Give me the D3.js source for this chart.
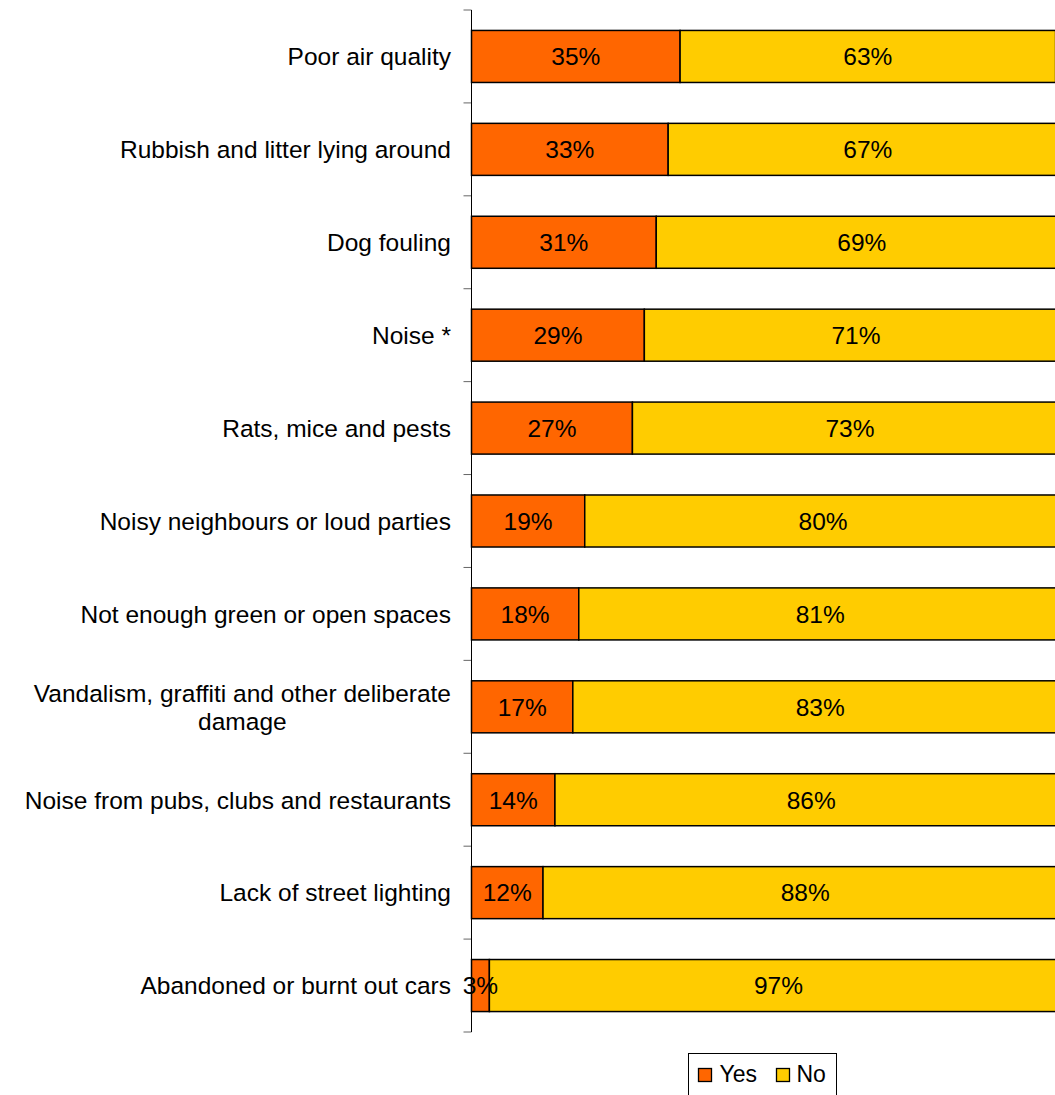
<!DOCTYPE html>
<html>
<head>
<meta charset="utf-8">
<script src="https://cdn.jsdelivr.net/npm/d3@7"></script>
<style>
  body { margin: 0; background: #fff; }
  text { font-family: "Liberation Sans", Arial, sans-serif; }
</style>
</head>
<body>
<svg id="chart" width="1055" height="1095"></svg>
<script>
var categories = [
    ["Poor air quality"],
    ["Rubbish and litter lying around"],
    ["Dog fouling"],
    ["Noise *"],
    ["Rats, mice and pests"],
    ["Noisy neighbours or loud parties"],
    ["Not enough green or open spaces"],
    ["Vandalism, graffiti and other deliberate", "damage"],
    ["Noise from pubs, clubs and restaurants"],
    ["Lack of street lighting"],
    ["Abandoned or burnt out cars"]
];
var yesValues = [35, 33, 31, 29, 27, 19, 18, 17, 14, 12, 3];
var noValues = [63, 67, 69, 71, 73, 80, 81, 83, 86, 88, 97];
var seriesNames = ["Yes", "No"];
var colors = ["#FF6600", "#FFCC00"];

var svg = d3.select('#chart');
var plotLeft = 471.5, plotTop = 10, plotBottom = 1032;
var fontSize = 24.5;

var x = d3.scaleLinear().domain([0, 100]).range([plotLeft, plotLeft + 596]);
var y = d3.scaleBand()
    .domain(d3.range(categories.length))
    .range([plotTop, plotBottom])
    .paddingInner(0.44)
    .paddingOuter(0.22);

var rows = categories.map(function (c, i) {
    return { label: c, yes: yesValues[i], no: noValues[i], i: i };
});

// axis line with ticks between categories
var step = (plotBottom - plotTop) / categories.length;
svg.selectAll('.tick')
    .data(d3.range(categories.length + 1))
    .enter()
    .append('line')
    .attr('class', 'tick')
    .attr('x1', plotLeft - 8).attr('x2', plotLeft)
    .attr('y1', function (d) { return plotTop + d * step; })
    .attr('y2', function (d) { return plotTop + d * step; })
    .attr('stroke', '#666').attr('stroke-width', 1);
svg.append('line')
    .attr('x1', plotLeft).attr('x2', plotLeft)
    .attr('y1', plotTop).attr('y2', plotBottom)
    .attr('stroke', '#000').attr('stroke-width', 1);

var g = svg.selectAll('.row')
    .data(rows)
    .enter()
    .append('g')
    .attr('class', 'row');

g.append('rect')
    .attr('x', x(0))
    .attr('y', function (d) { return y(d.i); })
    .attr('width', function (d) { return x(d.yes) - x(0); })
    .attr('height', y.bandwidth())
    .attr('fill', colors[0])
    .attr('stroke', '#000').attr('stroke-width', 1.5);

g.append('rect')
    .attr('x', function (d) { return x(d.yes); })
    .attr('y', function (d) { return y(d.i); })
    .attr('width', function (d) { return x(d.yes + d.no) - x(d.yes); })
    .attr('height', y.bandwidth())
    .attr('fill', colors[1])
    .attr('stroke', '#000').attr('stroke-width', 1.5);

g.append('text')
    .attr('x', function (d) { return (x(0) + x(d.yes)) / 2; })
    .attr('y', function (d) { return y(d.i) + y.bandwidth() / 2; })
    .attr('dy', '0.36em')
    .attr('text-anchor', 'middle')
    .attr('font-size', fontSize)
    .text(function (d) { return d.yes + '%'; });

g.append('text')
    .attr('x', function (d) { return (x(d.yes) + x(d.yes + d.no)) / 2; })
    .attr('y', function (d) { return y(d.i) + y.bandwidth() / 2; })
    .attr('dy', '0.36em')
    .attr('text-anchor', 'middle')
    .attr('font-size', fontSize)
    .text(function (d) { return d.no + '%'; });

// category labels, multi-line ones centred within a right-aligned block
g.each(function (d) {
    var t = d3.select(this).append('text')
        .attr('font-size', fontSize)
        .attr('text-anchor', 'end');
    var cy = y(d.i) + y.bandwidth() / 2;
    var lh = 28;
    var n = d.label.length;
    d.label.forEach(function (line, k) {
        t.append('tspan')
            .attr('x', 451)
            .attr('y', cy + (k - (n - 1) / 2) * lh)
            .attr('dy', '0.36em')
            .text(line);
    });
    if (n > 1) {
        var w = t.node().getBBox().width;
        t.attr('text-anchor', 'middle');
        t.selectAll('tspan').attr('x', 451 - w / 2);
    }
});

// legend
var lg = svg.append('g').attr('transform', 'translate(688.5,1053.5)');
lg.append('rect')
    .attr('width', 148).attr('height', 50)
    .attr('fill', '#fff').attr('stroke', '#000').attr('stroke-width', 1);
var items = lg.selectAll('.item')
    .data(seriesNames)
    .enter()
    .append('g')
    .attr('transform', function (d, i) { return 'translate(' + (10 + i * 78) + ',0)'; });
items.append('rect')
    .attr('x', 0).attr('y', 15)
    .attr('width', 13).attr('height', 13)
    .attr('fill', function (d, i) { return colors[i]; })
    .attr('stroke', '#000').attr('stroke-width', 1.3);
items.append('text')
    .attr('x', function (d, i) { return i === 0 ? 21 : 20; })
    .attr('y', 28)
    .attr('font-size', 23)
    .text(function (d) { return d; });
</script>
</body>
</html>
